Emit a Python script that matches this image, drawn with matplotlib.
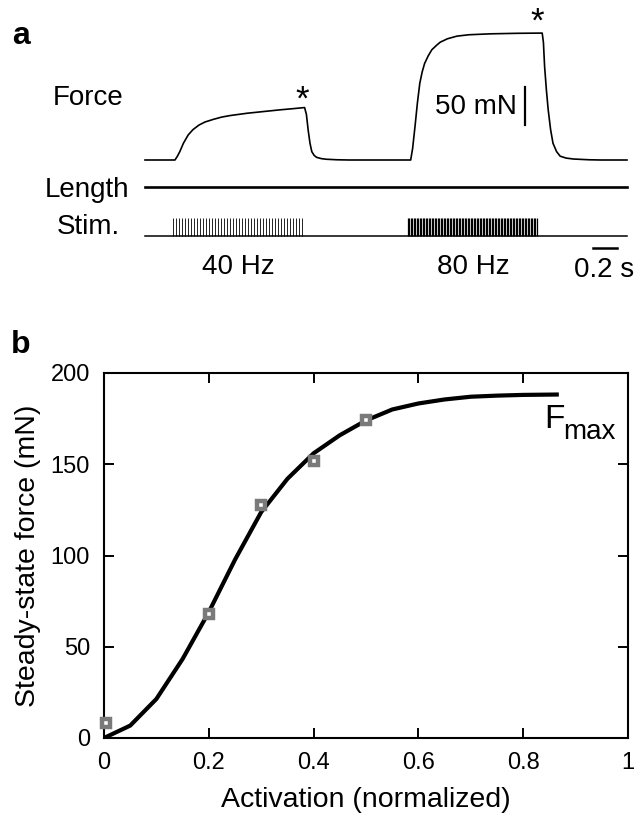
import matplotlib
matplotlib.use('Agg')
import matplotlib.pyplot as plt
import numpy as np

plt.rcParams['font.family'] = ['Liberation Sans', 'DejaVu Sans']

# ---- panel a: force trace (time in s, force in mN)
force_t = [0.0, 0.25, 0.27, 0.29, 0.32, 0.36, 0.40, 0.45, 0.50, 0.57, 0.64,
           0.71, 0.85, 0.99, 1.125, 1.23, 1.33,
           1.345, 1.36, 1.375, 1.39, 1.41, 1.43, 1.47, 1.51, 1.60, 1.70,
           2.214, 2.23, 2.25, 2.27, 2.29, 2.31, 2.33, 2.36, 2.39, 2.43, 2.46,
           2.52, 2.60, 2.70, 2.875, 3.10, 3.31,
           3.32, 3.33, 3.345, 3.36, 3.38, 3.40, 3.43, 3.46, 3.51, 3.57, 3.70,
           3.80, 4.0167]
force_mN = [0, 0, 5, 11, 22, 33, 40, 46, 50, 53.5, 56.5,
            58.5, 61.5, 63.8, 66, 67.5, 69,
            60, 39, 22, 11, 6, 3.5, 1.8, 1, 0.3, 0,
            0, 15, 44, 75, 101, 116, 127, 137, 145, 151, 155,
            159.5, 163, 164.8, 166, 166.7, 167,
            155, 123, 92, 66, 40, 22, 11, 5, 2.5, 1.3, 0.3,
            0, 0]

# stimulus trains: (start s, stop s, frequency Hz, label)
trains = [(0.235, 1.31, 40, '40 Hz'), (2.19, 3.275, 80, '80 Hz')]
trace_end = 4.0167
scale_force = 50    # mN
scale_time = 0.2    # s

# ---- panel b: activation vs steady-state force
act_meas = [0.003, 0.2, 0.3, 0.4, 0.5]
force_meas = [8.0, 67.7, 127.8, 151.6, 174.5]
act_fit = [0, 0.05, 0.1, 0.15, 0.2, 0.25, 0.3, 0.35, 0.4, 0.45, 0.5, 0.55,
           0.6, 0.65, 0.7, 0.75, 0.8, 0.864]
force_fit = [0, 6.8, 21.4, 43.3, 69, 97.7, 123.8, 142, 156, 165.9, 174, 180,
             183.3, 185.5, 187, 187.6, 188, 188.2]

W, H = 642, 826
fig = plt.figure(figsize=(W / 100, H / 100), dpi=100)

def px(x, y):
    return x / W, 1 - y / H

# panel a axes: 120 px per s, 0.76 px per mN, force baseline at y=160 px
pps, ppm = 120.0, 0.76
ax = fig.add_axes([145 / W, 1 - 290 / H, 482 / W, 290 / H])
ax.set_xlim(0, 482 / pps)
ax.set_ylim(-(290 - 160) / ppm, 160 / ppm)
ax.axis('off')

ax.plot(force_t, force_mN, color='black', lw=1.2, clip_on=False)
len_y = -(187 - 160) / ppm
ax.plot([0, trace_end], [len_y, len_y], color='black', lw=1.9, clip_on=False)
stim_base = -(236 - 160) / ppm
stim_top = -(218 - 160) / ppm
ax.plot([0, trace_end], [stim_base, stim_base], color='black', lw=1.1, clip_on=False)
for start, stop, freq, lab in trains:
    pulses = np.arange(start, stop, 1.0 / freq)
    ax.vlines(pulses, stim_base, stim_top, color='black',
              lw=0.6 if freq < 60 else 0.9)

# scale bars
ax.plot([3.167, 3.167], [46, 46 + scale_force], color='black', lw=1.6)
sb_y = -(248 - 160) / ppm
ax.plot([3.733, 3.733 + scale_time], [sb_y, sb_y], color='black', lw=1.8, clip_on=False)

fs = 20
fig.text(*px(21, 36), 'a', fontsize=23, fontweight='bold', ha='center', va='center')
fig.text(*px(88, 98), 'Force', fontsize=fs, ha='center', va='center')
fig.text(*px(87, 190), 'Length', fontsize=fs, ha='center', va='center')
fig.text(*px(88, 227), 'Stim.', fontsize=fs, ha='center', va='center')
fig.text(*px(517, 107), '50 mN', fontsize=fs, ha='right', va='center')
fig.text(*px(238, 267), '40 Hz', fontsize=fs, ha='center', va='center')
fig.text(*px(473, 267), '80 Hz', fontsize=fs, ha='center', va='center')
fig.text(*px(604, 270), '0.2 s', fontsize=fs, ha='center', va='center')
fig.text(*px(302, 100), '*', fontsize=25, ha='center', va='center')
fig.text(*px(537, 22), '*', fontsize=25, ha='center', va='center')

# ---- panel b
bx = fig.add_axes([104 / W, 1 - 738 / H, 524 / W, 365 / H])
bx.plot(act_fit, force_fit, color='black', lw=3.0, zorder=2)
bx.plot(act_meas, force_meas, ls='none', marker='s', ms=6.0, mew=3.2,
        mec='#7a7a7a', mfc='white', zorder=3, clip_on=False)
bx.set_xlim(0, 1)
bx.set_ylim(0, 200)
bx.set_xticks([0, 0.2, 0.4, 0.6, 0.8, 1])
bx.set_xticklabels(['0', '0.2', '0.4', '0.6', '0.8', '1'])
bx.set_yticks([0, 50, 100, 150, 200])
bx.tick_params(direction='in', length=7, width=1.4, labelsize=17, pad=10,
               top=True, right=True)
for s in bx.spines.values():
    s.set_linewidth(1.5)
bx.set_xlabel('Activation (normalized)', fontsize=20.5)
bx.set_ylabel('Steady-state force (mN)', fontsize=20.5)
bx.xaxis.set_label_coords(0.5, -(800 - 738) / 365, transform=bx.transAxes)
bx.yaxis.set_label_coords((28 - 104) / 524, 0.5, transform=bx.transAxes)
bx.xaxis.label.set_va('center')
bx.yaxis.label.set_va('center')

bx.text(0.84, 170, 'F', fontsize=24, ha='left', va='baseline')
bx.text(0.877, 164, 'max', fontsize=20, ha='left', va='baseline')
fig.text(*px(21, 345), 'b', fontsize=23, fontweight='bold', ha='center', va='center')

fig.savefig('out.png', dpi=100)
